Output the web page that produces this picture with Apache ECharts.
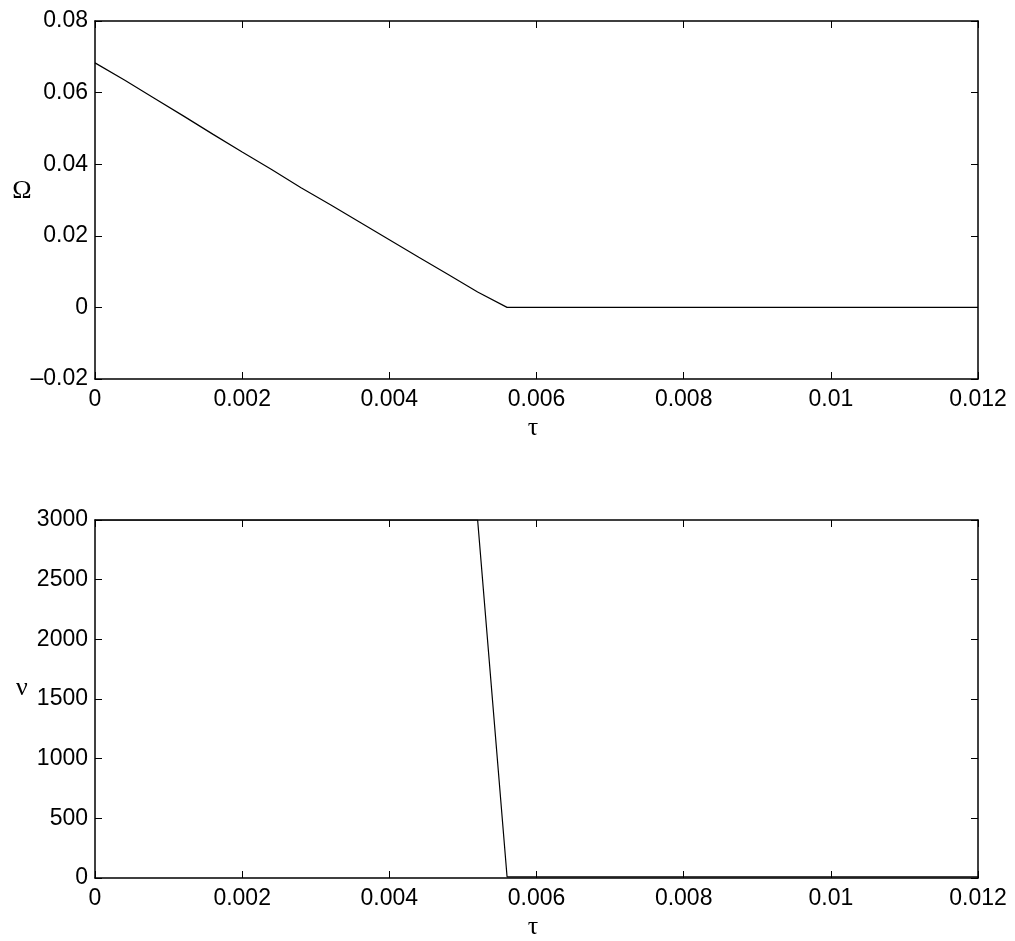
<!DOCTYPE html>
<html>
<head>
<meta charset="utf-8">
<script src="https://cdn.jsdelivr.net/npm/echarts@6/dist/echarts.min.js"></script>
<style>html,body{margin:0;padding:0;background:#fff}#c{width:1015px;height:941px}</style>
</head>
<body>
<div id="c"></div>
<script>
var tauTop = [0, 0.0004, 0.0008, 0.0012, 0.0016, 0.002, 0.0024, 0.0028, 0.0032, 0.0036, 0.004, 0.0044, 0.0048, 0.0052, 0.0056, 0.006, 0.007, 0.008, 0.009, 0.01, 0.011, 0.012];
var omega = [0.0683, 0.0635, 0.0585, 0.0535, 0.0484, 0.0434, 0.0385, 0.0334, 0.0287, 0.0238, 0.0189, 0.0140, 0.0092, 0.0043, 0, 0, 0, 0, 0, 0, 0, 0];
var tauBot = [0, 0.001, 0.002, 0.003, 0.004, 0.005, 0.0052, 0.0056, 0.006, 0.007, 0.008, 0.009, 0.01, 0.011, 0.012];
var nu = [3000, 3000, 3000, 3000, 3000, 3000, 3000, 10, 10, 10, 10, 10, 10, 10, 10];
var xTicks = [0, 0.002, 0.004, 0.006, 0.008, 0.01, 0.012];

var chart = echarts.init(document.getElementById('c'));
var lblFont = {fontFamily: 'Liberation Sans, Arial, sans-serif', fontSize: 23, color: '#000'};
var lineStyle = {color: '#000', width: 1.5};
function fmtY(v){ return String(+v.toFixed(6)).replace('-', '\u2013'); }
function xAx(grid, pos, show){
  return {type: 'value', gridIndex: grid, position: pos, min: 0, max: 0.012, interval: 0.002,
    axisLine: {show: true, onZero: false, lineStyle: lineStyle},
    axisTick: {show: true, inside: true, length: 7, lineStyle: {color: '#000', width: 1}},
    axisLabel: show ? Object.assign({show: true, margin: 9, formatter: function(v){return String(+v.toFixed(6));}}, lblFont) : {show: false},
    splitLine: {show: false}};
}
function yAx(grid, pos, show, mn, mx, iv){
  return {type: 'value', gridIndex: grid, position: pos, min: mn, max: mx, interval: iv,
    axisLine: {show: true, onZero: false, lineStyle: lineStyle},
    axisTick: {show: true, inside: true, length: 7, lineStyle: {color: '#000', width: 1}},
    axisLabel: show ? Object.assign({show: true, margin: 7, formatter: fmtY}, lblFont) : {show: false},
    splitLine: {show: false}};
}
var serif = 'Liberation Serif, Times New Roman, serif';
function gtext(t, x, y){
  return {type: 'text', x: x, y: y, style: {text: t, font: '26px ' + serif, fill: '#000', align: 'center', verticalAlign: 'middle'}};
}
chart.setOption({
  animation: false,
  backgroundColor: '#fff',
  grid: [
    {left: 95, top: 21, width: 883, height: 358},
    {left: 95, top: 520, width: 883, height: 358}
  ],
  xAxis: [xAx(0, 'bottom', true), xAx(0, 'top', false), xAx(1, 'bottom', true), xAx(1, 'top', false)],
  yAxis: [yAx(0, 'left', true, -0.02, 0.08, 0.02), yAx(0, 'right', false, -0.02, 0.08, 0.02),
          yAx(1, 'left', true, 0, 3000, 500), yAx(1, 'right', false, 0, 3000, 500)],
  graphic: [
    gtext('\u03A9', 22, 191),
    gtext('\u03BD', 22, 688),
    gtext('\u03C4', 533, 428),
    gtext('\u03C4', 533, 927)
  ],
  series: [
    {type: 'line', xAxisIndex: 0, yAxisIndex: 0, showSymbol: false, symbol: 'none',
     lineStyle: {color: '#000', width: 1.2}, data: tauTop.map(function(t, i){return [t, omega[i]];})},
    {type: 'line', xAxisIndex: 2, yAxisIndex: 2, showSymbol: false, symbol: 'none',
     lineStyle: {color: '#000', width: 1.2}, data: tauBot.map(function(t, i){return [t, nu[i]];})}
  ]
});
</script>
</body>
</html>
